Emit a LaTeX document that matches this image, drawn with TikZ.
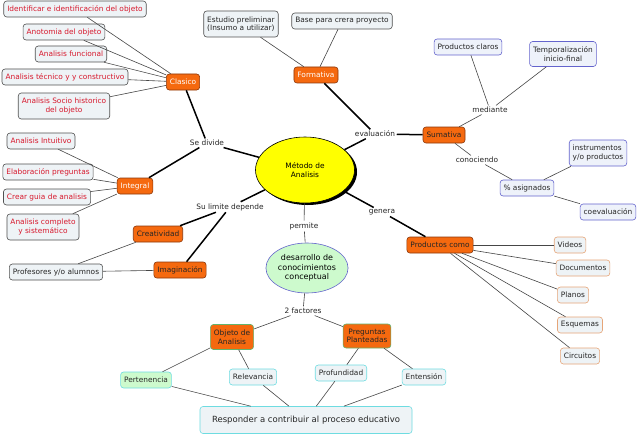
\documentclass[tikz,border=0pt]{standalone}
\usepackage{fontspec}
\setmainfont{DejaVu Sans}
\usetikzlibrary{shapes.geometric,shadows}
\definecolor{boxgray}{RGB}{80,80,80}
\definecolor{boxfill}{RGB}{238,243,246}
\definecolor{redtxt}{RGB}{215,25,45}
\definecolor{orng}{RGB}{245,105,15}
\definecolor{orngdark}{RGB}{140,55,10}
\definecolor{bluebrd}{RGB}{100,100,205}
\definecolor{bluefill}{RGB}{238,242,250}
\definecolor{peachbrd}{RGB}{230,165,120}
\definecolor{cyanbrd}{RGB}{110,220,225}
\definecolor{greenfill}{RGB}{205,250,205}
\definecolor{greenbrd}{RGB}{100,180,110}
\definecolor{linegray}{RGB}{70,70,70}
\definecolor{yell}{RGB}{255,255,0}
\newcommand{\fs}{\fontsize{7.4}{8.6}\selectfont}
\newcommand{\fsb}{\fontsize{8}{9.4}\selectfont}
\newcommand{\fsc}{\fontsize{8.5}{10}\selectfont}
\begin{document}
\begin{tikzpicture}[x=1pt,y=-1pt,
  box/.style={draw=boxgray, fill=boxfill, rounded corners=3pt, inner xsep=3.5pt, inner ysep=2pt,
    font=\fs, align=center, line width=0.6pt, minimum height=16pt, text=black!85},
  redbox/.style={box, text=redtxt},
  bluebox/.style={box, draw=bluebrd, fill=bluefill},
  peachbox/.style={box, draw=peachbrd},
  cyanbox/.style={box, draw=cyanbrd},
  cat/.style={fill=orng, draw=orngdark, rounded corners=3pt, inner xsep=3.5pt, inner ysep=2pt,
    font=\fs, align=center, line width=0.6pt, minimum height=16pt, text=black!85},
  catw/.style={cat, text=white},
  lbl/.style={font=\fs, inner sep=1.5pt, text=black!85},
  thk/.style={line width=1.5pt, draw=black},
  thn/.style={line width=0.6pt, draw=linegray}]
\useasboundingbox (0,0) rectangle (640,436);
\fill[white] (0,0) rectangle (640,436);

% central
\node[ellipse, draw=black, fill=yell, line width=0.6pt, minimum width=99pt, minimum height=66pt,
  font=\fs, align=center, drop shadow={shadow xshift=2.5pt, shadow yshift=-2pt, fill=black, opacity=1}]
  (metodo) at (305,170) {Método de\\Analisis};

% Clasico branch
\node[redbox] (id1) at (75,9) {Identificar e identificación del objeto};
\node[redbox] (id2) at (64,32) {Anotomia del objeto};
\node[redbox] (id3) at (71,54) {Analisis funcional};
\node[redbox] (id4) at (65,77) {Analisis técnico y y constructivo};
\node[redbox, minimum height=26pt] (id5) at (64,106) {Analisis Socio historico\\del objeto};
\node[catw] (clasico) at (183,82) {Clasico};

% Formativa branch
\node[box, align=left, minimum height=26pt] (estudio) at (241,24) {Estudio preliminar\\(Insumo a utilizar)};
\node[box] (base) at (342,21) {Base para crera proyecto};
\node[catw] (formativa) at (316,75) {Formativa};

% Sumativa branch
\node[bluebox] (pclaros) at (468,47) {Productos claros};
\node[bluebox, minimum height=25pt] (temporal) at (563,54) {Temporalización\\inicio-final};
\node[lbl] (mediante) at (490,110) {mediante};
\node[cat] (sumativa) at (444,135) {Sumativa};
\node[lbl] (evaluacion) at (375,134) {evaluación};
\node[lbl] (conociendo) at (477,160) {conociendo};
\node[bluebox, align=left, minimum height=26pt] (instrumentos) at (598,153) {instrumentos\\y/o productos};
\node[bluebox] (asignados) at (527,188) {\% asignados};
\node[bluebox] (coevaluacion) at (608,212) {coevaluación};

% Integral branch
\node[lbl] (sedivide) at (207,143) {Se divide};
\node[catw] (integral) at (135,186) {Integral};
\node[redbox] (ai1) at (41,141) {Analisis Intuitivo};
\node[redbox] (ai2) at (48,172) {Elaboración preguntas};
\node[redbox] (ai3) at (47,197) {Crear guia de analisis};
\node[redbox, minimum height=26pt] (ai4) at (43,227) {Analisis completo\\y sistemático};

% Su limite depende
\node[lbl] (sulimite) at (230,207) {Su limite depende};
\node[cat] (creatividad) at (158,234) {Creatividad};
\node[cat] (imaginacion) at (180,270) {Imaginación};
\node[box] (profesores) at (56,272) {Profesores y/o alumnos};

% permite
\node[lbl] (permite) at (304,226) {permite};
\node[ellipse, draw=bluebrd, fill=greenfill, line width=0.6pt, minimum width=80pt, minimum height=50pt,
  inner sep=0pt, font=\fsb, align=center] (desarrollo) at (307,268) {desarrollo de\\conocimientos\\conceptual};
\node[lbl] (factores) at (303,311) {2 factores};
\node[cat, draw=greenbrd, minimum height=25pt] (objeto) at (232,337) {Objeto de\\Analisis};
\node[cat, draw=greenbrd, minimum height=24pt] (preguntas) at (367,336) {Preguntas\\Planteadas};
\node[cyanbox, fill=greenfill] (pertenencia) at (146,380) {Pertenencia};
\node[cyanbox] (relevancia) at (253,377) {Relevancia};
\node[cyanbox] (profundidad) at (341,373) {Profundidad};
\node[cyanbox] (entension) at (424,377) {Entensión};
\node[cyanbox, font=\fsc, minimum width=212pt, minimum height=27pt] (responder) at (306,420) {Responder a contribuir al proceso educativo};

% genera
\node[lbl] (genera) at (382,212) {genera};
\node[cat] (productos) at (440,245) {Productos como};
\node[peachbox] (videos) at (570,245) {Videos};
\node[peachbox] (documentos) at (583,268) {Documentos};
\node[peachbox] (planos) at (573,295) {Planos};
\node[peachbox] (esquemas) at (580,325) {Esquemas};
\node[peachbox] (circuitos) at (580,356) {Circuitos};

% connectors thin
\foreach \n in {id1,id2,id3,id4,id5} \draw[thn] (clasico) -- (\n);
\draw[thn] (estudio) -- (formativa);
\draw[thn] (base) -- (formativa);
\draw[thn] (pclaros) -- (mediante);
\draw[thn] (temporal) -- (mediante);
\draw[thn] (mediante) -- (sumativa);
\draw[thn] (sumativa) -- (conociendo);
\draw[thn] (conociendo) -- (asignados);
\draw[thn] (asignados) -- (instrumentos);
\draw[thn] (asignados) -- (coevaluacion);
\foreach \n in {ai1,ai2,ai3,ai4} \draw[thn] (integral) -- (\n);
\draw[thn] (profesores) -- (creatividad);
\draw[thn] (profesores) -- (imaginacion);
\draw[thn] (metodo) -- (permite);
\draw[thn] (permite) -- (desarrollo);
\draw[thn] (desarrollo) -- (factores);
\draw[thn] (factores) -- (objeto);
\draw[thn] (factores) -- (preguntas);
\draw[thn] (objeto) -- (pertenencia);
\draw[thn] (objeto) -- (relevancia);
\draw[thn] (preguntas) -- (profundidad);
\draw[thn] (preguntas) -- (entension);
\foreach \n in {pertenencia,relevancia,profundidad,entension} \draw[thn] (\n) -- (responder);
\foreach \n in {videos,documentos,planos,esquemas,circuitos} \draw[thn] (productos) -- (\n);
% thick
\draw[thk] (clasico) -- (sedivide);
\draw[thk] (integral) -- (sedivide);
\draw[thk] (sedivide) -- (metodo);
\draw[thk] (metodo) -- (sulimite);
\draw[thk] (sulimite) -- (creatividad);
\draw[thk] (sulimite) -- (imaginacion);
\draw[thk] (metodo) -- (evaluacion);
\draw[thk] (evaluacion) -- (formativa);
\draw[thk] (evaluacion) -- (sumativa);
\draw[thk] (metodo) -- (genera);
\draw[thk] (genera) -- (productos);
\end{tikzpicture}
\end{document}
